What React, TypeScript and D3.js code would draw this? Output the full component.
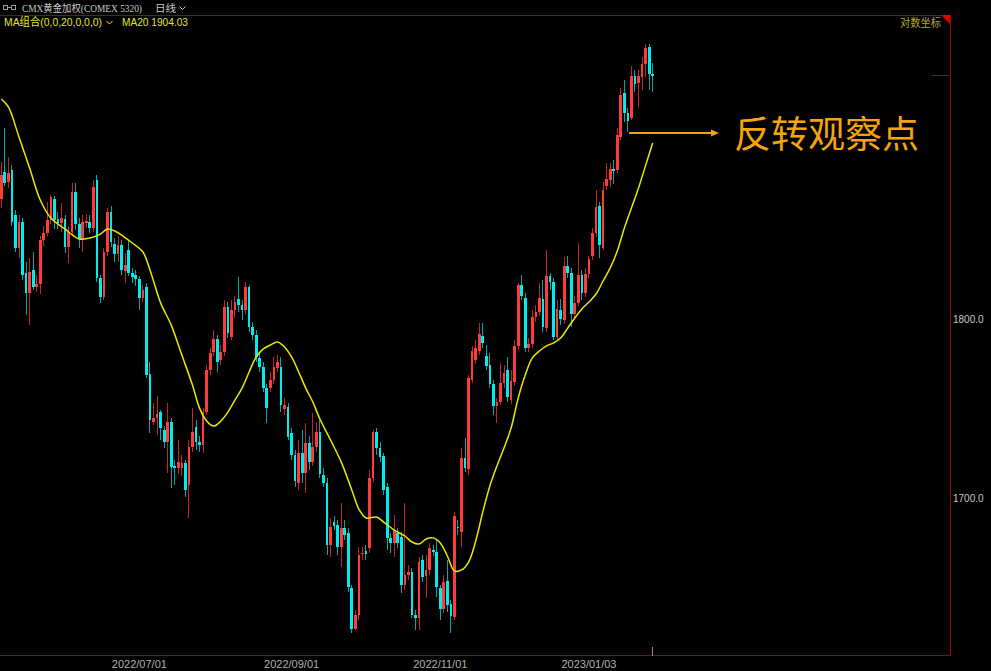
import React from "react";
import * as d3 from "d3";

// ---- data ----
const opens = [1870.3,1886.5,1880.5,1887.7,1860.8,1841.3,1856.6,1826.7,1815.0,1828.4,1818.5,1820.3,1846.0,1850.1,1857.8,1870.3,1858.4,1856.0,1858.4,1841.9,1850.7,1874.5,1855.4,1846.6,1856.0,1856.6,1853.1,1881.7,1823.8,1812.7,1838.9,1862.6,1843.6,1837.7,1843.0,1827.8,1840.1,1826.7,1825.5,1823.2,1812.1,1818.5,1768.7,1741.8,1744.0,1747.3,1737.3,1730.7,1741.8,1717.5,1716.4,1716.4,1719.2,1707.1,1728.0,1739.0,1730.7,1729.0,1747.3,1770.9,1781.2,1788.6,1776.6,1781.2,1806.9,1789.7,1805.2,1811.5,1808.1,1805.2,1818.5,1795.4,1790.9,1777.8,1772.6,1760.7,1760.7,1765.3,1772.0,1772.6,1749.0,1750.1,1735.7,1723.5,1708.2,1724.6,1713.7,1730.2,1719.7,1728.0,1736.2,1712.5,1708.2,1674.7,1687.0,1685.4,1673.6,1683.8,1681.1,1651.8,1630.3,1637.7,1669.9,1671.5,1673.1,1710.9,1736.2,1727.4,1723.0,1706.0,1678.5,1675.8,1681.1,1679.0,1653.4,1658.7,1660.3,1637.7,1636.1,1666.7,1658.2,1661.4,1672.0,1670.9,1651.8,1640.8,1655.6,1643.4,1636.7,1684.3,1681.6,1721.9,1715.9,1765.3,1776.6,1781.7,1790.3,1778.9,1773.7,1763.0,1750.7,1752.9,1763.6,1770.9,1754.0,1764.1,1784.6,1819.6,1812.1,1783.4,1785.7,1801.1,1804.0,1811.5,1794.8,1824.9,1821.4,1789.7,1805.2,1799.4,1830.7,1826.7,1802.9,1809.3,1825.5,1815.0,1826.1,1836.6,1850.1,1866.2,1841.3,1878.1,1881.7,1888.3,1887.7,1907.7,1934.7,1922.4,1919.3,1945.3,1940.9,1944.7,1952.7,1963.4,1946.5];
const highs = [1892.5,1913.2,1895.5,1890.7,1863.8,1860.8,1859.0,1833.0,1835.4,1838.9,1825.5,1848.4,1854.3,1868.5,1872.7,1872.1,1862.6,1867.9,1860.8,1854.3,1879.9,1879.9,1859.0,1860.8,1861.4,1860.8,1881.7,1884.7,1825.5,1841.3,1865.0,1866.2,1847.2,1848.4,1846.0,1838.3,1846.0,1829.6,1828.4,1824.9,1819.6,1820.9,1775.5,1752.3,1756.2,1748.4,1739.5,1752.3,1744.0,1720.8,1731.8,1723.5,1720.8,1731.8,1749.5,1742.9,1734.0,1749.5,1773.7,1783.4,1793.7,1790.9,1785.1,1811.0,1809.8,1811.0,1813.2,1824.3,1811.0,1821.4,1819.6,1798.3,1793.7,1781.2,1775.5,1763.0,1769.8,1778.3,1779.4,1778.3,1755.1,1752.3,1738.4,1726.3,1731.8,1737.3,1741.2,1734.0,1746.7,1741.8,1742.9,1716.4,1710.9,1689.2,1690.3,1688.1,1697.3,1688.1,1683.8,1653.4,1640.3,1673.6,1673.6,1674.7,1715.3,1737.3,1738.4,1730.7,1724.6,1708.2,1681.1,1690.8,1683.8,1681.6,1697.3,1664.0,1662.4,1640.3,1668.3,1669.3,1669.3,1675.8,1674.7,1677.4,1653.4,1658.7,1666.7,1645.5,1692.4,1688.1,1727.4,1732.9,1768.1,1784.6,1788.0,1797.7,1797.7,1785.1,1780.6,1765.3,1755.1,1774.9,1773.7,1778.3,1770.9,1788.0,1820.9,1825.5,1815.0,1789.1,1805.2,1808.1,1820.9,1822.6,1840.1,1826.7,1823.8,1811.0,1811.5,1836.0,1836.6,1829.6,1813.2,1844.2,1828.4,1829.6,1836.6,1853.1,1875.7,1868.5,1880.5,1891.9,1891.9,1893.7,1913.2,1937.8,1942.8,1925.4,1951.5,1949.0,1949.0,1957.1,1965.2,1965.2,1953.3];
const lows = [1865.0,1878.1,1876.9,1854.3,1838.9,1835.4,1822.6,1802.3,1796.5,1816.7,1815.5,1814.4,1842.5,1848.4,1855.4,1852.5,1852.5,1850.7,1838.3,1832.5,1848.4,1851.9,1841.3,1838.9,1853.1,1850.1,1850.7,1821.4,1809.3,1811.0,1836.6,1841.9,1833.0,1833.0,1825.5,1820.9,1824.9,1820.9,1819.0,1805.2,1809.8,1766.4,1735.7,1740.1,1734.6,1731.8,1727.4,1713.7,1705.5,1707.1,1713.1,1712.0,1700.5,1689.2,1725.2,1726.3,1725.2,1724.6,1745.6,1768.1,1778.9,1769.8,1773.7,1778.9,1789.1,1788.0,1800.6,1804.0,1799.4,1802.9,1792.6,1788.0,1775.5,1769.8,1758.5,1741.2,1758.5,1763.0,1769.8,1747.3,1745.6,1731.8,1720.8,1706.0,1704.4,1708.2,1702.8,1715.3,1717.5,1725.2,1710.9,1706.0,1669.3,1668.3,1682.7,1669.3,1663.0,1677.4,1649.7,1628.2,1629.8,1635.1,1666.7,1666.7,1670.4,1708.7,1723.5,1719.7,1701.6,1672.0,1670.4,1668.3,1673.1,1649.2,1650.8,1656.1,1636.1,1629.8,1629.8,1655.0,1646.6,1658.7,1668.8,1647.1,1635.1,1638.7,1639.3,1628.2,1635.1,1680.1,1673.6,1714.2,1712.5,1763.6,1774.3,1779.4,1783.4,1770.9,1760.7,1745.6,1741.2,1751.2,1760.7,1752.9,1751.8,1761.9,1782.3,1811.0,1781.2,1781.2,1783.4,1798.3,1801.7,1792.6,1792.6,1816.7,1788.0,1787.4,1796.5,1797.1,1823.8,1795.4,1800.6,1807.5,1811.0,1812.7,1823.8,1834.2,1847.8,1835.4,1840.1,1875.7,1877.5,1879.3,1885.9,1905.9,1916.9,1910.8,1918.1,1935.4,1926.1,1936.6,1944.7,1936.6,1935.4];
const closes = [1884.7,1879.9,1885.9,1856.6,1841.3,1856.6,1825.5,1815.0,1827.2,1818.5,1820.3,1846.0,1850.1,1857.8,1871.5,1857.8,1856.0,1859.0,1841.9,1850.7,1874.5,1855.4,1846.6,1856.6,1857.2,1853.1,1877.5,1823.8,1812.7,1838.9,1862.6,1844.8,1837.7,1843.0,1828.4,1831.3,1826.7,1824.3,1823.2,1812.1,1816.7,1768.1,1742.9,1744.0,1746.2,1738.4,1730.7,1741.8,1717.0,1716.4,1719.7,1719.2,1704.4,1728.0,1736.2,1730.7,1729.0,1747.3,1770.9,1780.6,1788.6,1775.5,1781.2,1806.9,1792.0,1805.2,1809.8,1808.1,1805.2,1818.5,1795.4,1790.9,1778.3,1772.6,1760.7,1749.5,1765.3,1772.6,1775.5,1751.2,1751.2,1733.4,1723.5,1709.3,1724.6,1713.7,1730.2,1719.7,1728.0,1736.2,1713.1,1708.2,1674.7,1684.3,1684.8,1673.6,1683.8,1680.1,1652.4,1630.3,1637.7,1669.3,1670.4,1669.9,1710.9,1736.2,1727.4,1722.4,1704.4,1678.5,1675.8,1682.7,1675.8,1653.4,1658.7,1660.3,1637.7,1636.1,1665.6,1657.7,1661.4,1673.1,1670.9,1652.4,1640.8,1655.0,1642.9,1637.2,1690.3,1683.8,1721.9,1716.4,1766.4,1781.7,1783.4,1791.4,1786.3,1773.2,1763.0,1750.7,1752.9,1763.6,1769.2,1755.7,1764.7,1784.6,1819.6,1813.2,1783.4,1785.7,1801.1,1804.0,1812.1,1795.4,1824.9,1821.4,1789.7,1805.8,1800.0,1830.7,1826.7,1802.9,1809.3,1825.5,1815.0,1826.1,1834.8,1850.1,1865.6,1843.0,1875.7,1882.3,1888.3,1887.1,1909.0,1933.5,1922.4,1917.5,1945.3,1940.3,1945.3,1952.7,1962.7,1946.5,1945.3];

// MA20 read at sampled candle positions
const maIdx = [0,2,5,8,11,14,18,22,25,28,30,32,34,37,40,42,45,48,51,54,56,58,60,62,64,66,68,70,72,74,76,78,80,82,84,86,88,90,93,96,99,101,103,106,108,111,114,116,118,120,122,124,126,128,130,132,134,136,138,140,142,144,146,148,150,152,154,156,158,160,162,164,166,168,170,172,174,176,178,180,182,184];
const maVal = [1931.0,1926.1,1907.7,1888.9,1869.7,1859.0,1852.5,1846.6,1847.2,1849.5,1852.5,1851.3,1848.9,1844.2,1838.9,1828.4,1809.3,1796.5,1779.4,1762.4,1749.5,1742.3,1739.5,1742.3,1747.3,1754.0,1760.7,1769.8,1778.3,1782.9,1785.1,1786.8,1784.0,1778.3,1769.8,1760.7,1752.9,1743.4,1731.8,1719.7,1704.4,1694.0,1689.2,1689.7,1687.0,1682.7,1679.5,1676.3,1675.2,1677.9,1678.5,1675.8,1668.8,1660.9,1661.4,1665.6,1676.8,1692.4,1706.5,1717.5,1727.4,1738.4,1755.1,1768.1,1777.8,1781.7,1784.6,1786.3,1789.1,1794.8,1800.6,1805.8,1809.8,1814.4,1822.0,1829.6,1839.5,1853.1,1865.0,1876.9,1890.5,1904.03];

const dateTickIdx = [39, 82, 124, 166];
const dateTickLabels = ["2022/07/01", "2022/09/01", "2022/11/01", "2023/01/03"];
const priceTicks = [1800, 1700];

const W = 991, H = 671;
const RED = "#ff3b3b", CYAN = "#00eded";
const RED_W = "#c42424", CYAN_W = "#00a8a8";

export default function App() {
  const n = opens.length;
  const x = d3.scaleLinear().domain([0, n - 1]).range([1.3, 652.7]);
  const y = d3.scaleLog().domain([1700, 1800]).range([498, 319]);
  const bodyW = 2.7;

  const maLine = d3.line<number>()
    .x((_, k) => x(maIdx[k]))
    .y((v) => y(v))
    .curve(d3.curveCatmullRom.alpha(0.5));

  const candles = d3.range(n).map((i) => {
    const o = opens[i], c = closes[i], hi = highs[i], lo = lows[i];
    const up = c >= o;
    const cx = x(i);
    const top = y(Math.max(o, c));
    const bot = y(Math.min(o, c));
    return (
      <g key={i}>
        <rect x={Math.floor(cx)} y={y(hi)} width={1} height={Math.max(1, y(lo) - y(hi))}
          fill={up ? RED_W : CYAN_W} shapeRendering="crispEdges" />
        <rect x={cx - bodyW / 2} y={top} width={bodyW} height={Math.max(1, bot - top)}
          fill={up ? RED : CYAN} shapeRendering="crispEdges" />
      </g>
    );
  });

  return (
    <svg width={W} height={H} style={{ position: "absolute", left: 0, top: 0, background: "#000" }}
      fontFamily="'Liberation Sans', Arial, sans-serif">
      <rect x={0} y={0} width={W} height={H} fill="#000" />
      {/* header */}
      <g stroke="#9a9a9a" fill="none" strokeWidth={1} shapeRendering="crispEdges">
        <rect x={3.5} y={5.5} width={4} height={4} />
        <rect x={11.5} y={5.5} width={4} height={4} />
        <line x1={7.5} y1={7.5} x2={11.5} y2={7.5} />
      </g>
      <text x={22} y={12} fontSize={10} fill="#c8c8c8" textLength={120} lengthAdjust="spacingAndGlyphs"
        fontFamily="'Liberation Serif','Noto Sans CJK SC',serif">CMX黄金加权(COMEX 5320)</text>
      <text x={155} y={12} fontSize={10.5} fill="#c8c8c8" fontFamily="'Noto Sans CJK SC',sans-serif">日线</text>
      <path d="M179.5,6.5 L182.5,9.5 L185.5,6.5" stroke="#c8c8c8" fill="none" strokeWidth={1} />
      <line x1={0} y1={15.5} x2={950} y2={15.5} stroke="#8b0a0a" strokeWidth={1} />
      <text x={4} y={26} fontSize={11} fill="#e6e61e" textLength={98} lengthAdjust="spacingAndGlyphs"
        fontFamily="'Liberation Sans','Noto Sans CJK SC',sans-serif">MA组合(0,0,20,0,0,0)</text>
      <path d="M106.5,21 L109.5,24 L112.5,21" stroke="#e6e61e" fill="none" strokeWidth={1} />
      <text x={122} y={26} fontSize={11} fill="#e6e61e" textLength={66} lengthAdjust="spacingAndGlyphs">MA20 1904.03</text>
      <text x={900} y={27} fontSize={11} fill="#b4aa28" textLength={41} lengthAdjust="spacingAndGlyphs"
        fontFamily="'Noto Sans CJK SC',sans-serif">对数坐标</text>
      <path d="M941,15 L950.5,15 L950.5,24.5 Z" fill="#e00000" />

      {/* frame */}
      <line x1={950.5} y1={15} x2={950.5} y2={656} stroke="#8b0a0a" strokeWidth={1} />
      <line x1={0} y1={655.5} x2={951} y2={655.5} stroke="#8b0a0a" strokeWidth={1} />
      <line x1={932} y1={75.5} x2={949} y2={75.5} stroke="#3c3c14" strokeWidth={1} />

      {/* price axis */}
      {priceTicks.map((p) => (
        <text key={p} x={953} y={y(p) + 3.5} fontSize={10} fill="#c8c8c8">{p.toFixed(1)}</text>
      ))}
      {/* date axis */}
      {dateTickIdx.map((ix, k) => (
        <text key={k} x={x(ix)} y={668} fontSize={11} fill="#b0b0b0" textAnchor="middle">{dateTickLabels[k]}</text>
      ))}

      {/* candles */}
      <g>{candles}</g>

      {/* MA20 */}
      <path d={maLine(maVal) || ""} fill="none" stroke="#e8e800" strokeWidth={1.5} />

      {/* last bar marker */}
      <line x1={Math.floor(x(n - 1)) + 0.5} y1={647} x2={Math.floor(x(n - 1)) + 0.5} y2={656} stroke="#909090" strokeWidth={1} />

      {/* annotation */}
      <line x1={629} y1={133} x2={712} y2={133} stroke="#f0a30a" strokeWidth={2} />
      <path d="M711,129.5 L719,133 L711,136.5 Z" fill="#f0a30a" />
      <text x={734} y={148} fontSize={37} fill="#f5a50a" fontFamily="'Noto Sans CJK SC',sans-serif">反转观察点</text>
    </svg>
  );
}
